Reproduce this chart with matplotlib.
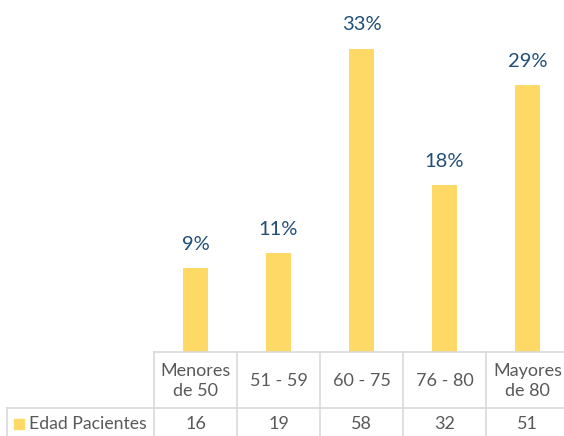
import matplotlib
matplotlib.use("Agg")
import matplotlib.pyplot as plt
from matplotlib.lines import Line2D
from matplotlib.patches import Rectangle

categories = ["Menores\nde 50", "51 - 59", "60 - 75", "76 - 80", "Mayores\nde 80"]
counts = [16, 19, 58, 32, 51]
percents = [9.1, 10.8, 33.0, 18.2, 29.0]
series_name = "Edad Pacientes"

BAR = "#FFD966"
LABEL = "#1F4E79"
TEXT = "#595959"
GRID = "#D9D9D9"
FONT = "Lato"

W, H = 564, 436
fig = plt.figure(figsize=(W / 100, H / 100), dpi=100)

def fx(x):
    return x / W

def fy(y):
    return 1 - y / H

# table geometry (pixels, top-left origin)
x0 = 154
colw = 83
ncol = len(categories)
x_right = x0 + colw * ncol
y_top = 352
y_mid = 408
y_bot = 437
legend_left = 7

ax = fig.add_axes([fx(x0), fy(y_top), (x_right - x0) / W, y_top / H])
ax.set_xlim(-0.5, ncol - 0.5)
ax.set_ylim(0, y_top / 919.6 * 100)
ax.bar(range(ncol), percents, width=0.31, color=BAR, zorder=2)
for i, p in enumerate(percents):
    ax.annotate(f"{p:.0f}%", (i, p), xytext=(0, 17), textcoords="offset points",
                ha="center", va="center", fontsize=14.5, color=LABEL, family=FONT)
ax.axis("off")

def hline(y, xa, xb):
    fig.add_artist(Line2D([fx(xa), fx(xb)], [fy(y), fy(y)], color=GRID, lw=1.2,
                          transform=fig.transFigure))

def vline(x, ya, yb):
    fig.add_artist(Line2D([fx(x), fx(x)], [fy(ya), fy(yb)], color=GRID, lw=1.2,
                          transform=fig.transFigure))

hline(y_top, x0, x_right)
hline(y_mid, legend_left, x_right)
hline(y_bot, legend_left, x_right)
for k in range(ncol + 1):
    vline(x0 + k * colw, y_top, y_bot)
vline(legend_left, y_mid, y_bot)

for i, (c, n) in enumerate(zip(categories, counts)):
    cx = x0 + colw * (i + 0.5)
    fig.text(fx(cx), fy((y_top + y_mid) / 2 + 1), c, ha="center", va="center",
             fontsize=13, color=TEXT, family=FONT, linespacing=1.35)
    fig.text(fx(cx), fy((y_mid + y_bot) / 2 + 1), str(n), ha="center", va="center",
             fontsize=13, color=TEXT, family=FONT)

fig.add_artist(Rectangle((fx(14), fy(429)), 10 / W, 10 / H, color=BAR,
                         transform=fig.transFigure))
fig.text(fx(29), fy((y_mid + y_bot) / 2 + 1), series_name, ha="left", va="center",
         fontsize=12.7, color=TEXT, family=FONT)

fig.savefig("out.png", dpi=100)
